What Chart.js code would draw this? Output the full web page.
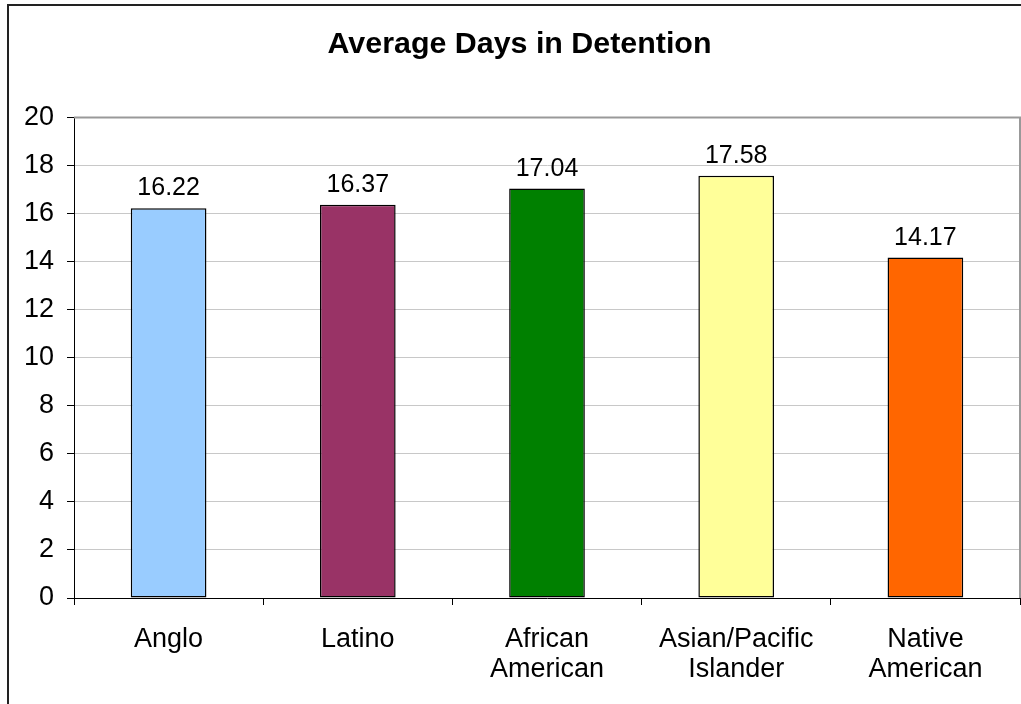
<!DOCTYPE html>
<html>
<head>
<meta charset="utf-8">
<script src="https://cdn.jsdelivr.net/npm/chart.js@4.4.1/dist/chart.umd.min.js"></script>
<style>
  html, body { margin: 0; padding: 0; background: #fff; }
  #wrap { width: 1021px; height: 704px; }
</style>
</head>
<body>
<div id="wrap"><canvas id="chart" width="1021" height="704"></canvas></div>
<script>
// data
const categories = ['Anglo', 'Latino', ['African', 'American'], ['Asian/Pacific', 'Islander'], ['Native', 'American']];
const avgDays = [16.22, 16.37, 17.04, 17.58, 14.17];
const barColors = ['#99ccff', '#993366', '#008000', '#ffff99', '#ff6600'];
const yTicks = [0, 2, 4, 6, 8, 10, 12, 14, 16, 18, 20];
const chartTitle = 'Average Days in Detention';

const FONT = "'Liberation Sans', Arial, sans-serif";

// value labels above the bars
const valueLabels = {
    id: 'valueLabels',
    afterDatasetsDraw(chart) {
        const c = chart.ctx;
        const meta = chart.getDatasetMeta(0);
        c.save();
        c.font = '25px ' + FONT;
        c.fillStyle = '#000';
        c.textAlign = 'center';
        c.textBaseline = 'alphabetic';
        meta.data.forEach((bar, i) => {
            c.fillText(avgDays[i].toFixed(2), bar.x, bar.y - 13);
        });
        c.restore();
    }
};

// title (Excel centres it a bit right of the canvas middle), gray plot border, outer frame
const frames = {
    id: 'frames',
    afterDraw(chart) {
        const c = chart.ctx;
        const a = chart.chartArea;
        c.save();
        c.font = 'bold 30.4px ' + FONT;
        c.fillStyle = '#000';
        c.textAlign = 'center';
        c.textBaseline = 'middle';
        c.fillText(chartTitle, 519.5, 45);

        c.strokeStyle = '#999';
        c.lineWidth = 2;
        c.beginPath();
        c.moveTo(a.left, a.top);
        c.lineTo(a.right, a.top);
        c.lineTo(a.right, a.bottom);
        c.stroke();
        c.strokeStyle = '#222';
        c.lineWidth = 2;
        c.strokeRect(8, 5, 1100, 1000);
        c.restore();
    }
};

const ctx = document.getElementById('chart').getContext('2d');
const myChart = new Chart(ctx, {
    type: 'bar',
    data: {
        labels: categories,
        datasets: [{
            data: avgDays,
            backgroundColor: barColors,
            borderColor: '#000',
            borderWidth: 1.5,
            borderSkipped: false,
            categoryPercentage: 1.0,
            barPercentage: 0.4
        }]
    },
    options: {
        responsive: false,
        animation: false,
        layout: { padding: { left: 0, right: 1, top: 117.5, bottom: 0 } },
        plugins: {
            legend: { display: false },
            tooltip: { enabled: false },
            title: { display: false }
        },
        scales: {
            x: {
                grid: {
                    offset: true,
                    drawOnChartArea: false,
                    tickLength: 7,
                    tickColor: '#000'
                },
                border: { color: '#000', width: 1 },
                ticks: {
                    color: '#000',
                    font: { family: FONT, size: 27, lineHeight: 1.12 },
                    padding: 19,
                    maxRotation: 0,
                    autoSkip: false
                },
                afterFit(scale) { scale.height = 106; }
            },
            y: {
                min: 0,
                max: 20,
                afterBuildTicks(scale) { scale.ticks = yTicks.map(v => ({ value: v })); },
                grid: {
                    color: c => (c.tick && c.tick.value === 20) ? '#999' : '#c8c8c8',
                    tickColor: '#000',
                    tickLength: 7
                },
                border: { color: '#000', width: 1 },
                ticks: {
                    color: '#000',
                    font: { family: FONT, size: 27 },
                    padding: 13
                },
                afterFit(scale) { scale.width = 74; }
            }
        }
    },
    plugins: [valueLabels, frames]
});
</script>
</body>
</html>
